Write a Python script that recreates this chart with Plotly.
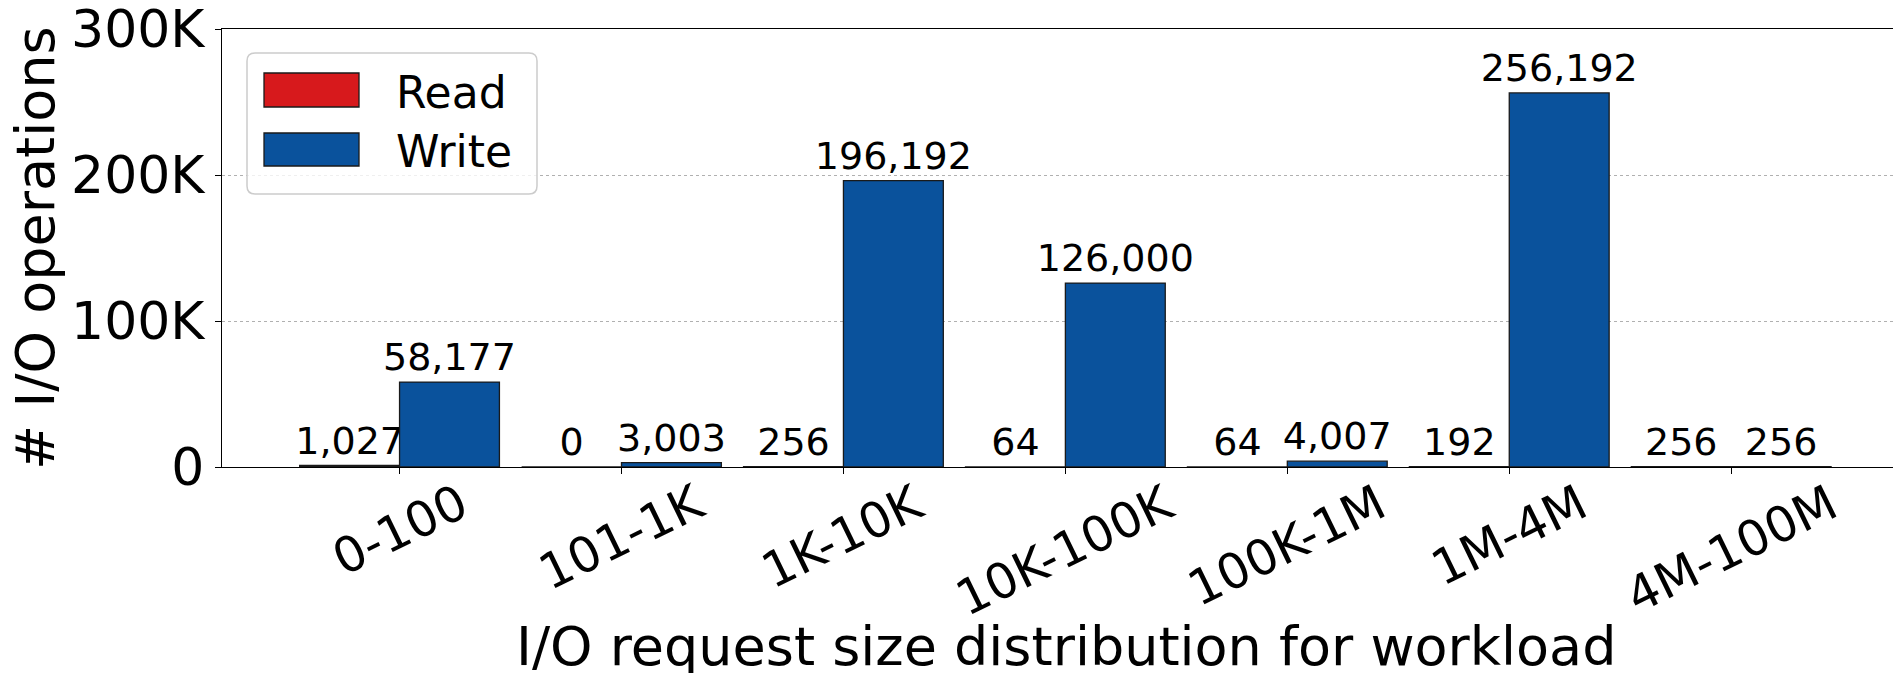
import plotly.graph_objects as go

# I/O request size buckets and operation counts per bucket
categories = ["0-100", "101-1K", "1K-10K", "10K-100K", "100K-1M", "1M-4M", "4M-100M"]
read_ops = [1027, 0, 256, 64, 64, 192, 256]
write_ops = [58177, 3003, 196192, 126000, 4007, 256192, 256]

y_tick_vals = [0, 100000, 200000, 300000]
y_tick_text = ["0", "100K", "200K", "300K"]

READ_COLOR = "#d7191c"
WRITE_COLOR = "#0a529c"
FONT = "DejaVu Sans"

W, H = 1893, 673
ML, MR, MT, MB = 222, 0, 29, 206
PW, PH = W - ML - MR, H - MT - MB


def xp(px):
    """pixel column -> paper x"""
    return (px - ML) / PW


def yp(py):
    """pixel row -> paper y"""
    return (MT + PH - py) / PH


fig = go.Figure()
for name, vals, color in [("Read", read_ops, READ_COLOR), ("Write", write_ops, WRITE_COLOR)]:
    fig.add_trace(go.Bar(
        name=name,
        x=categories,
        y=vals,
        marker=dict(color=color, line=dict(color="#1a1a1a", width=1.3)),
        texttemplate="%{y:,}",
        textposition="outside",
        textfont=dict(family=FONT, size=38, color="black"),
        constraintext="none",
        cliponaxis=False,
        showlegend=False,
    ))

annotations = []
# rotated category labels, centred under each tick
for c in categories:
    annotations.append(dict(
        x=c, xref="x", y=0, yref="paper", yanchor="top", xanchor="center",
        yshift=-4, text=c, textangle=-26, showarrow=False,
        font=dict(family=FONT, size=49, color="black"),
    ))

# axis titles
annotations.append(dict(
    x=xp(1066), y=yp(646), xref="paper", yref="paper", xanchor="center", yanchor="middle",
    text="I/O request size distribution for workload", showarrow=False,
    font=dict(family=FONT, size=54, color="black"),
))
annotations.append(dict(
    x=xp(35), y=yp(248), xref="paper", yref="paper", xanchor="center", yanchor="middle",
    text="# I/O operations", textangle=-90, showarrow=False,
    font=dict(family=FONT, size=54, color="black"),
))

# legend: rounded frame, colour patches and labels
legend_items = [("Read", READ_COLOR, 73, 107), ("Write", WRITE_COLOR, 133, 166)]
shapes = []
lx0, lx1, ly0, ly1 = xp(247), xp(537), yp(194), yp(53)
rx, ry = 8 / PW, 8 / PH
frame = (f"M {lx0+rx},{ly1} L {lx1-rx},{ly1} Q {lx1},{ly1} {lx1},{ly1-ry} "
         f"L {lx1},{ly0+ry} Q {lx1},{ly0} {lx1-rx},{ly0} L {lx0+rx},{ly0} "
         f"Q {lx0},{ly0} {lx0},{ly0+ry} L {lx0},{ly1-ry} Q {lx0},{ly1} {lx0+rx},{ly1} Z")
shapes.append(dict(type="path", path=frame, xref="paper", yref="paper",
                   fillcolor="rgba(255,255,255,0.8)", line=dict(color="#cccccc", width=1.5)))
for label, color, top, bottom in legend_items:
    shapes.append(dict(type="rect", xref="paper", yref="paper",
                       x0=xp(264), x1=xp(359), y0=yp(bottom), y1=yp(top),
                       fillcolor=color, line=dict(color="#1a1a1a", width=1.3)))
    annotations.append(dict(
        x=xp(394), y=yp((top + bottom) / 2 + 2), xref="paper", yref="paper",
        xanchor="left", yanchor="middle", text=label, showarrow=False,
        font=dict(family=FONT, size=44, color="black"),
    ))

fig.update_layout(
    width=W, height=H,
    margin=dict(l=ML, r=MR, t=MT, b=MB, pad=0),
    paper_bgcolor="white", plot_bgcolor="white",
    barmode="group", bargap=0.1, bargroupgap=0,
    font=dict(family=FONT, color="black"),
    annotations=annotations,
    shapes=shapes,
)
fig.update_xaxes(
    type="category", range=[-0.8, 6.729],
    showline=True, linecolor="black", linewidth=1.3, mirror=True,
    ticks="outside", ticklen=6, tickcolor="black", tickwidth=1.3,
    showticklabels=False, showgrid=False, zeroline=False,
)
fig.update_yaxes(
    range=[0, 300000], tickvals=y_tick_vals, ticktext=y_tick_text,
    ticklabeloverflow="allow",
    showline=True, linecolor="black", linewidth=1.3,
    ticks="outside", ticklen=6, tickcolor="black", tickwidth=1.3,
    tickfont=dict(family=FONT, size=52, color="black"),
    showgrid=True, gridcolor="#b0b0b0", griddash="dot", gridwidth=1,
    zeroline=False,
)

fig.write_html("out.html")
